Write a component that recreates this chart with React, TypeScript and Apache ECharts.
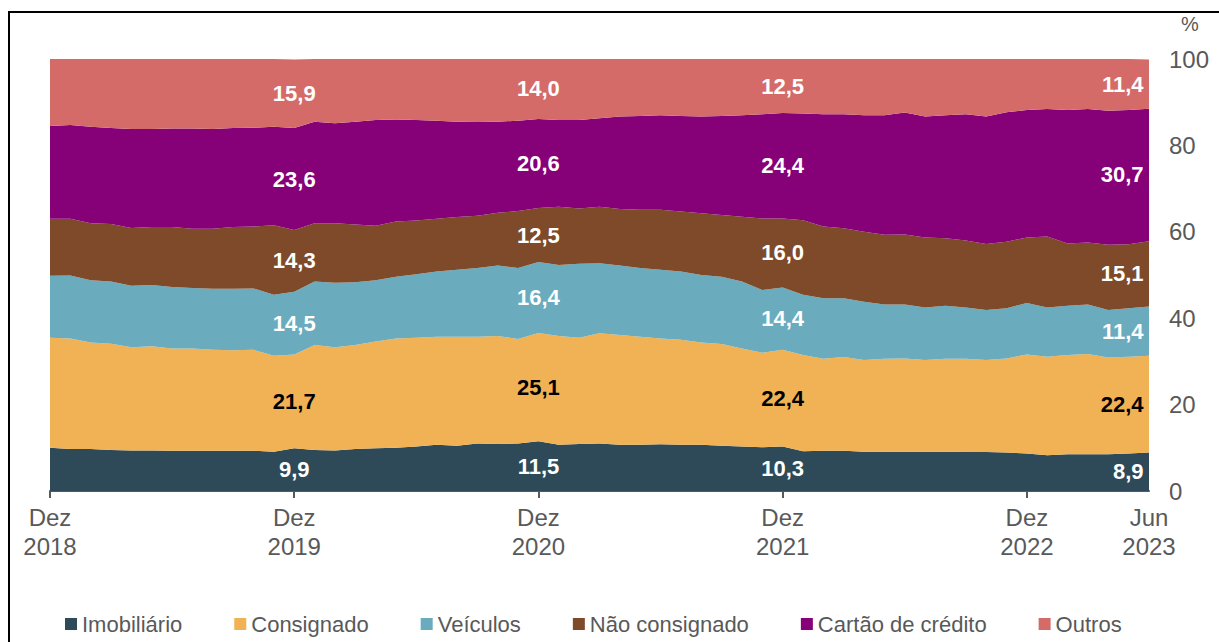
import React, { useEffect, useRef } from "react";
import * as echarts from "echarts";

const MONTH_NAMES = ["Jan", "Fev", "Mar", "Abr", "Mai", "Jun", "Jul", "Ago", "Set", "Out", "Nov", "Dez"];
const START_YEAR = 2018;
const START_MONTH = 11; // Dez
const N_MONTHS = 55; // Dez 2018 .. Jun 2023

const categories: string[] = Array.from({ length: N_MONTHS }, (_, i) => {
  const m = START_MONTH + i;
  return `${MONTH_NAMES[m % 12]}\n${START_YEAR + Math.floor(m / 12)}`;
});

const SERIES_NAMES = ["Imobiliário", "Consignado", "Veículos", "Não consignado", "Cartão de crédito", "Outros"];
const COLORS = ["#2E4A58", "#F0B254", "#6AABBE", "#7E4A29", "#860078", "#D46B69"];

const imobiliario = [
  10.0, 9.7, 9.7, 9.5, 9.4, 9.4, 9.3, 9.3, 9.3, 9.3, 9.3, 9.1, 9.9, 9.5,
  9.4, 9.7, 9.9, 10.0, 10.3, 10.7, 10.5, 11.0, 10.9, 11.0, 11.5, 10.7, 10.9, 11.0,
  10.7, 10.7, 10.8, 10.7, 10.7, 10.5, 10.3, 10.1, 10.3, 9.2, 9.3, 9.3, 9.1,
  9.1, 9.1, 9.1, 9.1, 9.0, 9.0, 8.9, 8.7, 8.3, 8.5, 8.5, 8.5, 8.7, 8.9,
];
const consignado = [
  25.5, 25.6, 24.7, 24.6, 23.9, 24.1, 23.7, 23.7, 23.4, 23.3, 23.4, 22.2, 21.7, 24.3,
  23.9, 24.1, 24.7, 25.3, 25.2, 25.0, 25.2, 24.7, 25.0, 24.2, 25.1, 25.2, 24.6, 25.5,
  25.4, 25.0, 24.5, 24.3, 23.7, 23.5, 22.7, 21.9, 22.4, 22.3, 21.3, 21.7, 21.2,
  21.5, 21.6, 21.2, 21.5, 21.6, 21.3, 21.8, 22.9, 22.8, 23.0, 23.2, 22.4, 22.4, 22.4,
];
const veiculos = [
  14.3, 14.6, 14.4, 14.4, 14.2, 14.2, 14.2, 14.0, 14.1, 14.2, 14.2, 14.1, 14.5, 14.7,
  14.9, 14.5, 14.2, 14.3, 14.7, 15.1, 15.5, 15.9, 16.3, 16.4, 16.4, 16.4, 17.1, 16.2,
  16.1, 15.9, 15.9, 15.8, 15.6, 15.6, 15.5, 14.5, 14.4, 13.9, 14.0, 13.6, 13.5,
  12.6, 12.5, 12.2, 12.3, 11.9, 11.6, 11.6, 11.9, 11.4, 11.4, 11.5, 11.0, 11.2, 11.4,
];
const naoConsignado = [
  13.2, 13.1, 13.2, 13.3, 13.4, 13.4, 13.9, 13.7, 13.9, 14.3, 14.3, 16.1, 14.3, 13.5,
  13.8, 13.4, 12.6, 12.8, 12.4, 12.2, 12.2, 12.1, 12.2, 13.2, 12.5, 13.5, 12.8, 13.1,
  13.1, 13.5, 13.9, 13.9, 14.3, 14.3, 15.0, 16.6, 16.0, 17.3, 16.6, 16.2, 16.2,
  16.1, 16.2, 16.2, 15.6, 15.5, 15.3, 15.4, 15.2, 16.4, 14.4, 14.3, 15.1, 14.8, 15.1,
];
const cartaoCredito = [
  21.5, 21.7, 22.3, 22.2, 22.9, 22.7, 22.8, 23.2, 23.1, 22.9, 22.9, 22.8, 23.6, 23.5,
  23.1, 23.8, 24.5, 23.6, 23.3, 22.7, 22.1, 21.7, 21.1, 20.9, 20.6, 20.1, 20.5, 20.5,
  21.4, 21.7, 21.9, 22.1, 22.4, 22.9, 23.5, 24.1, 24.4, 24.7, 26.0, 26.4, 27.0,
  27.7, 28.2, 28.0, 28.5, 29.2, 29.5, 30.0, 29.5, 29.5, 30.9, 30.9, 31.0, 31.1, 30.7,
];
const outros = [
  15.5, 15.3, 15.7, 16.0, 16.2, 16.2, 16.1, 16.1, 16.2, 16.0, 15.9, 15.7, 15.9, 14.5,
  14.9, 14.5, 14.1, 14.0, 14.1, 14.3, 14.5, 14.6, 14.5, 14.3, 14.0, 14.1, 14.1, 13.7,
  13.3, 13.2, 13.0, 13.2, 13.3, 13.2, 13.0, 12.8, 12.5, 12.6, 12.8, 12.8, 13.0,
  13.0, 12.4, 13.3, 13.0, 12.8, 13.3, 12.3, 11.8, 11.6, 11.8, 11.6, 12.0, 11.8, 11.4,
];

const SERIES_DATA = [imobiliario, consignado, veiculos, naoConsignado, cartaoCredito, outros];
const LABEL_INDICES = [12, 24, 36, 54];
const LABEL_DARK_SERIES = [1]; // Consignado labels are black

const FONT = "'Liberation Sans', Arial, Helvetica, sans-serif";
const GREY = "#595959";

export default function App() {
  const ref = useRef<HTMLDivElement>(null);

  useEffect(() => {
    if (!ref.current) return;
    const chart = echarts.init(ref.current, undefined, { renderer: "svg" });

    const areaSeries = SERIES_NAMES.map((name, s) => ({
      name,
      type: "line",
      stack: "total",
      data: SERIES_DATA[s],
      symbol: "none",
      smooth: false,
      lineStyle: { width: 0 },
      areaStyle: { color: COLORS[s], opacity: 1 },
      itemStyle: { color: COLORS[s] },
      emphasis: { disabled: true },
      z: 2,
    }));

    const labelData: any[] = [];
    LABEL_INDICES.forEach((idx) => {
      let below = 0;
      SERIES_DATA.forEach((arr, s) => {
        const v = arr[idx];
        labelData.push({
          value: [idx, below + v / 2, v],
          label: {
            color: LABEL_DARK_SERIES.includes(s) ? "#000000" : "#FFFFFF",
            position: idx === N_MONTHS - 1 ? "left" : "inside",
            distance: 5,
          },
        });
        below += v;
      });
    });

    const option: any = {
      animation: false,
      textStyle: { fontFamily: FONT },
      grid: { left: 50, right: 70, top: 59, bottom: 151, containLabel: false },
      legend: {
        data: SERIES_NAMES,
        left: 65,
        top: 613,
        padding: 0,
        icon: "rect",
        itemWidth: 12,
        itemHeight: 12,
        itemGap: 52,
        selectedMode: false,
        textStyle: { fontSize: 22, color: GREY, fontFamily: FONT },
      },
      xAxis: {
        type: "category",
        boundaryGap: false,
        data: categories,
        axisLine: { show: true, lineStyle: { color: GREY, width: 2 } },
        axisTick: {
          show: true,
          interval: (i: number) => i % 12 === 0,
          length: 7,
          lineStyle: { color: GREY, width: 2 },
        },
        axisLabel: {
          interval: (i: number) => i % 12 === 0 || i === N_MONTHS - 1,
          fontSize: 24,
          lineHeight: 29,
          color: GREY,
          margin: 12,
          fontFamily: FONT,
          hideOverlap: false,
        },
        splitLine: { show: false },
      },
      yAxis: {
        type: "value",
        position: "right",
        min: 0,
        max: 100,
        interval: 20,
        axisLine: { show: false },
        axisTick: { show: false },
        splitLine: { show: false },
        axisLabel: { fontSize: 24, color: GREY, margin: 20, fontFamily: FONT },
      },
      graphic: [
        {
          type: "text",
          x: 1190,
          y: 24,
          style: {
            text: "%",
            fill: GREY,
            fontSize: 20,
            fontFamily: FONT,
            align: "center",
            verticalAlign: "middle",
          },
        },
      ],
      series: [
        ...areaSeries,
        {
          name: "rotulos",
          type: "scatter",
          data: labelData,
          symbolSize: 1,
          itemStyle: { color: "rgba(0,0,0,0)", opacity: 1 },
          silent: true,
          z: 10,
          label: {
            show: true,
            opacity: 1,
            fontSize: 22,
            fontWeight: "bold",
            fontFamily: FONT,
            textBorderWidth: 0,
            formatter: (p: any) => p.value[2].toFixed(1).replace(".", ","),
          },
        },
      ],
    };

    chart.setOption(option);
    return () => chart.dispose();
  }, []);

  return (
    <div style={{ position: "fixed", left: 0, top: 0, width: 1219, height: 642, background: "#ffffff", overflow: "hidden" }}>
      <div
        style={{
          position: "absolute",
          left: 8,
          top: 11,
          width: 1211,
          height: 631,
          borderLeft: "2px solid #000",
          borderTop: "2px solid #000",
          boxSizing: "border-box",
        }}
      />
      <div ref={ref} style={{ position: "absolute", left: 0, top: 0, width: 1219, height: 642 }} />
    </div>
  );
}
